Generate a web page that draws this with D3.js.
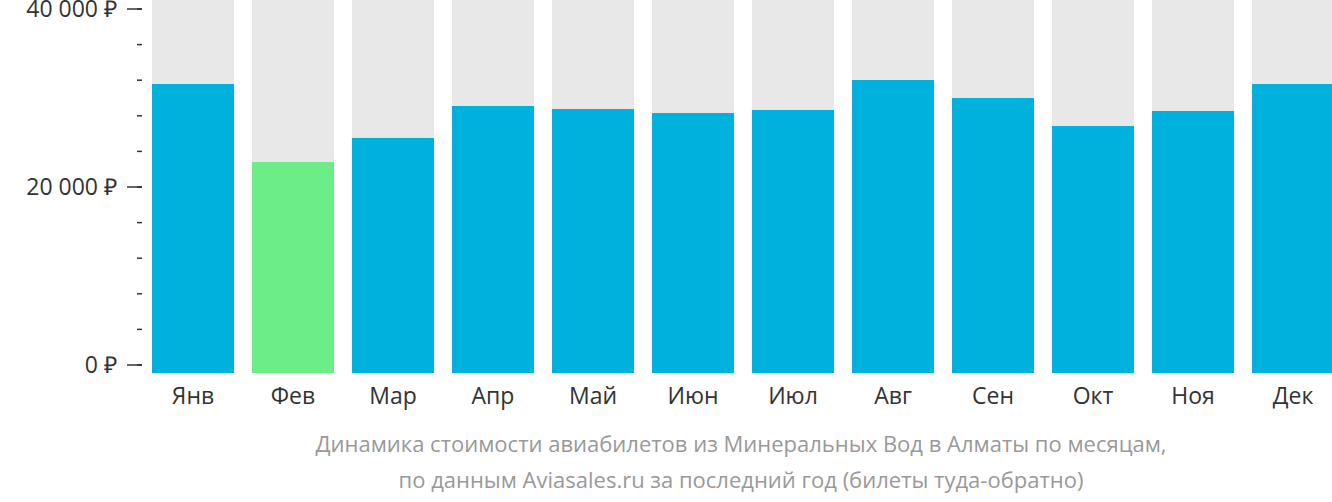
<!DOCTYPE html>
<html><head><meta charset="utf-8">
<script src="https://cdn.jsdelivr.net/npm/d3@7"></script>
<style>body{margin:0;background:#fff;font-family:"Open Sans",sans-serif}</style>
</head><body><svg id="c" width="1332" height="502"></svg>
<script>
const months=["Янв","Фев","Мар","Апр","Май","Июн","Июл","Авг","Сен","Окт","Ноя","Дек"];
const prices=[31570,22810,25510,29100,28760,28310,28650,32020,30000,26850,28540,31570];
const maxBg=41010;
const majorTicks=[0,20000,40000];
const minorTicks=d3.range(0,40001,4000);
const captionLines=["Динамика стоимости авиабилетов из Минеральных Вод в Алматы по месяцам,","по данным Aviasales.ru за последний год (билеты туда-обратно)"];
const minIdx=prices.indexOf(d3.min(prices));

const svg=d3.select("#c");
const x=d3.scaleBand().domain(months).range([143,1343]).paddingInner(0.18).paddingOuter(0.09);
const y=d3.scaleLinear().domain([0,40000]).range([365,9]);
const off=8;
const g=svg.append("g");
g.selectAll(".bg").data(months).join("rect").attr("x",d=>x(d)).attr("width",x.bandwidth())
 .attr("y",y(maxBg)).attr("height",y(0)+off-y(maxBg)).attr("fill","#e8e8e8");
g.selectAll(".b").data(prices).join("rect").attr("x",(d,i)=>x(months[i])).attr("width",x.bandwidth())
 .attr("y",d=>y(d)).attr("height",d=>y(0)+off-y(d)).attr("fill",(d,i)=>i===minIdx?"#6ced87":"#00b0dd");
const ax=svg.append("g");
ax.selectAll(".mi").data(minorTicks).join("line").attr("x1",137).attr("x2",142).attr("y1",d=>y(d)).attr("y2",d=>y(d)).attr("stroke","#333").attr("stroke-width",1.5);
ax.selectAll(".ma").data(majorTicks).join("line").attr("x1",127).attr("x2",142).attr("y1",d=>y(d)).attr("y2",d=>y(d)).attr("stroke","#333").attr("stroke-width",1.5);
ax.selectAll(".tl").data(majorTicks).join("text").attr("x",117).attr("y",d=>y(d)).attr("dy","0.35em").attr("text-anchor","end")
 .attr("font-size",23).attr("fill","#333").text(d=>d3.format(",")(d).replace(/,/g," ")+" ₽");
svg.selectAll(".ml").data(months).join("text").attr("x",d=>x(d)+x.bandwidth()/2).attr("y",396).attr("dy","0.35em")
 .attr("text-anchor","middle").attr("font-size",23).attr("fill","#333").text(d=>d);
svg.selectAll(".cap").data(captionLines).join("text").attr("x",741).attr("y",(d,i)=>444+i*36).attr("dy","0.35em")
 .attr("text-anchor","middle").attr("font-size",22).attr("fill","#999").text(d=>d);
</script></body></html>
